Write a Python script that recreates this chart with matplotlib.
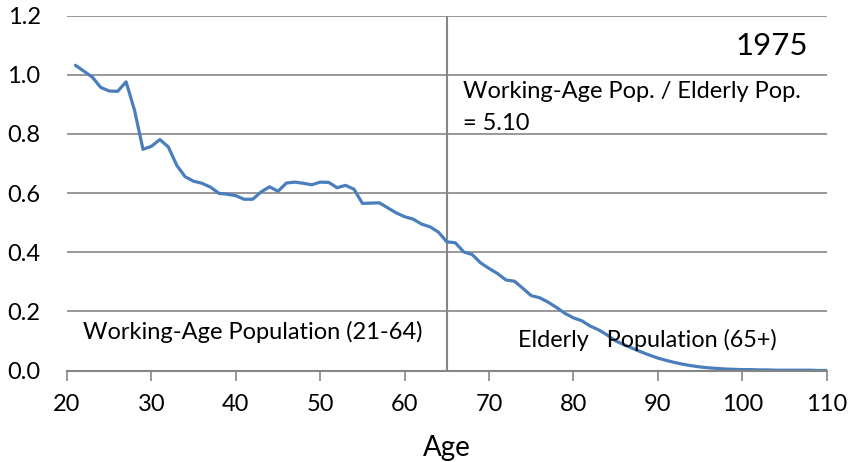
import numpy as np
import matplotlib
matplotlib.use('Agg')
import matplotlib.pyplot as plt

plt.rcParams['font.family'] = ['Lato', 'DejaVu Sans']

## ratio by age, 1975
ages = list(range(21, 111))
ratio = [1.032, 1.012, 0.992, 0.957, 0.945, 0.944, 0.976, 0.880, 0.748, 0.758,
         0.781, 0.756, 0.694, 0.655, 0.640, 0.633, 0.620, 0.599, 0.596, 0.591,
         0.579, 0.579, 0.604, 0.621, 0.606, 0.634, 0.637, 0.633, 0.628, 0.637,
         0.636, 0.618, 0.626, 0.613, 0.565, 0.566, 0.567, 0.550, 0.533, 0.520,
         0.512, 0.495, 0.486, 0.468, 0.435, 0.432, 0.401, 0.392, 0.364, 0.345,
         0.328, 0.306, 0.302, 0.278, 0.253, 0.246, 0.231, 0.213, 0.193, 0.178,
         0.168, 0.150, 0.137, 0.120, 0.100, 0.087, 0.075, 0.063, 0.052, 0.042,
         0.034, 0.027, 0.021, 0.016, 0.012, 0.009, 0.007, 0.005, 0.004, 0.003,
         0.003, 0.002, 0.002, 0.001, 0.001, 0.001, 0.001, 0.001, 0.000, 0.000]
x_ticks = [20, 30, 40, 50, 60, 70, 80, 90, 100, 110]
y_ticks = [0.0, 0.2, 0.4, 0.6, 0.8, 1.0, 1.2]
split_age = 65
year = '1975'

grey = '#868686'
fig = plt.figure(figsize=(8.49, 4.62), dpi=100)
ax = fig.add_axes([67/849, 1-370.5/462, (826.7-67)/849, (370.5-15.6)/462])

ax.set_xlim(20, 110)
ax.set_ylim(0, 1.2)
ax.set_xticks(x_ticks)
ax.set_yticks(y_ticks)
ax.set_yticklabels(['%.1f' % v for v in y_ticks])
ax.grid(True, axis='y', color=grey, linewidth=1.2)
ax.set_axisbelow(True)
for s in ['left', 'right', 'top']:
    ax.spines[s].set_visible(False)
ax.spines['bottom'].set_color(grey)
ax.spines['bottom'].set_linewidth(1.5)
ax.tick_params(axis='x', direction='out', length=7, width=1.2, color=grey, labelsize=17, pad=10)
ax.tick_params(axis='y', length=0, labelsize=17, pad=19)

ax.axvline(split_age, color=grey, linewidth=1.5)
ax.plot(ages, ratio, color='#4A7EBB', linewidth=2.3, solid_capstyle='round')

# annotations (figure pixel positions)
fig.text(808/849, 1-46/462, year, ha='right', va='center', fontsize=22.5)
fig.text(463/849, 1-91/462, 'Working-Age Pop. / Elderly Pop.', ha='left', va='center', fontsize=17)
fig.text(463/849, 1-124/462, '= 5.10', ha='left', va='center', fontsize=17)
fig.text(83/849, 1-332/462, 'Working-Age Population (21-64)', ha='left', va='center', fontsize=17)
fig.text(518/849, 1-340/462, 'Elderly   Population (65+)', ha='left', va='center', fontsize=16.8)
fig.text(447/849, 1-448/462, 'Age', ha='center', va='center', fontsize=20)

plt.savefig('out.png', dpi=100)
